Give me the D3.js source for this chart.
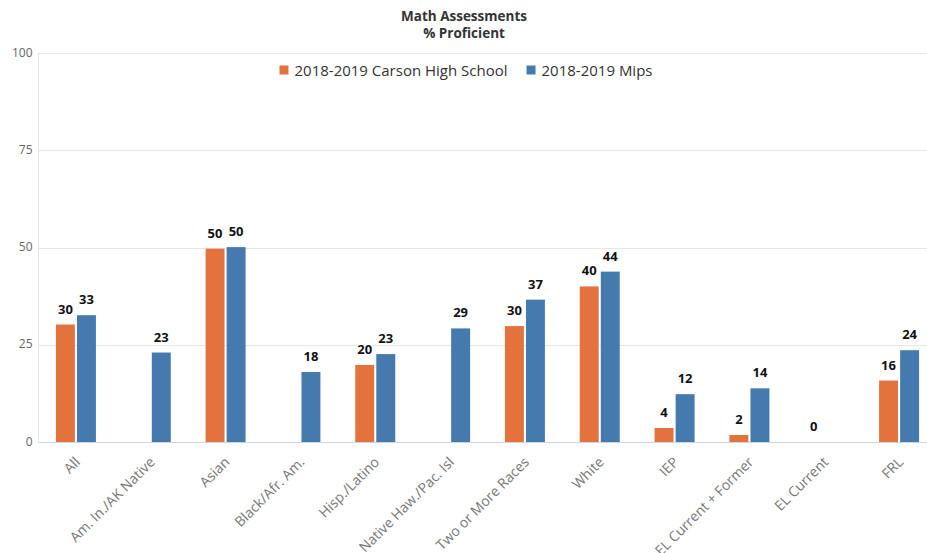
<!DOCTYPE html>
<html>
<head>
<meta charset="utf-8">
<script src="https://cdn.jsdelivr.net/npm/d3@7"></script>
<style>
  html, body { margin: 0; padding: 0; background: #fff; }
  svg { display: block; font-family: "Open Sans", "DejaVu Sans", sans-serif; }
</style>
</head>
<body>
<svg id="chart" width="927" height="553"></svg>
<script>
// ---- Data ----
const categories = ["All", "Am. In./AK Native", "Asian", "Black/Afr. Am.", "Hisp./Latino",
  "Native Haw./Pac. Isl", "Two or More Races", "White", "IEP", "EL Current + Former",
  "EL Current", "FRL"];
const seriesNames = ["2018-2019 Carson High School", "2018-2019 Mips"];
const carsonValues = [30.2, null, 49.7, null, 19.8, null, 29.8, 40.0, 3.6, 1.8, 0, 15.8];
const mipsValues = [32.6, 23.0, 50.1, 18.0, 22.6, 29.2, 36.6, 43.8, 12.3, 13.8, null, 23.6];
const yTicks = [0, 25, 50, 75, 100];
const titleLines = ["Math Assessments", "% Proficient"];

const colors = ["#e4723c", "#457aae"];
const allSeries = [carsonValues, mipsValues];

// ---- Layout ----
const svg = d3.select("#chart");
const plotLeft = 38.5, plotRight = 936.5, plotTop = 53, plotBottom = 442;

const x = d3.scaleBand().domain(categories).range([plotLeft, plotRight]).padding(0);
const xSub = d3.scaleBand().domain(d3.range(seriesNames.length)).range([0, 40]).paddingInner(0.1);
const y = d3.scaleLinear().domain([0, 100]).range([plotBottom, plotTop]);

// Title
svg.append("g").selectAll("text").data(titleLines).join("text")
  .attr("x", 464).attr("y", (d, i) => 21 + i * 17)
  .attr("text-anchor", "middle")
  .attr("font-size", 13.5).attr("font-weight", "bold").attr("fill", "#333")
  .text(d => d);

// Gridlines
svg.append("g").selectAll("line").data(yTicks.filter(t => t > 0)).join("line")
  .attr("x1", plotLeft).attr("x2", 927)
  .attr("y1", d => Math.round(y(d)) + 0.5).attr("y2", d => Math.round(y(d)) + 0.5)
  .attr("stroke", "#e6e6e6").attr("stroke-width", 1);

// Left axis line
svg.append("line")
  .attr("x1", plotLeft).attr("x2", plotLeft)
  .attr("y1", plotTop).attr("y2", plotBottom)
  .attr("stroke", "#e6e6e6").attr("stroke-width", 1);

// Y axis labels
const yAxis = d3.axisLeft(y).tickValues(yTicks).tickSize(0).tickPadding(6);
const gy = svg.append("g").attr("transform", `translate(${plotLeft},0)`).call(yAxis);
gy.select(".domain").remove();
gy.selectAll("text").attr("font-size", 12).attr("fill", "#666")
  .attr("font-family", "'Open Sans', sans-serif").attr("dy", "0.55em");
gy.selectAll(".tick").attr("transform", d => `translate(0,${y(d) - 3})`);

// Bars
const groups = svg.append("g").selectAll("g").data(categories).join("g")
  .attr("transform", d => `translate(${x(d) + x.bandwidth() / 2 - 20},0)`);

groups.each(function(cat, ci) {
  const g = d3.select(this);
  const vals = allSeries.map((s, si) => ({ si, v: s[ci] })).filter(d => d.v !== null);
  g.selectAll("rect").data(vals).join("rect")
    .attr("x", d => xSub(d.si))
    .attr("width", xSub.bandwidth())
    .attr("y", d => y(d.v))
    .attr("height", d => y(0) - y(d.v))
    .attr("fill", d => colors[d.si]);
  g.selectAll("text").data(vals).join("text")
    .attr("x", d => xSub(d.si) + xSub.bandwidth() / 2)
    .attr("y", d => y(d.v) - 11)
    .attr("text-anchor", "middle")
    .attr("font-size", 13).attr("font-weight", "bold").attr("fill", "#111")
    .attr("stroke", "#fff").attr("stroke-width", 2).attr("paint-order", "stroke")
    .text(d => Math.round(d.v));
});

// X axis line
svg.append("line")
  .attr("x1", plotLeft).attr("x2", 927)
  .attr("y1", plotBottom + 0.5).attr("y2", plotBottom + 0.5)
  .attr("stroke", "#ccd6eb").attr("stroke-width", 1);

// X axis labels
svg.append("g").selectAll("text").data(categories).join("text")
  .attr("transform", d => `translate(${x(d) + x.bandwidth() / 2 + 5},${463}) rotate(-45)`)
  .attr("text-anchor", "end")
  .attr("font-size", 14).attr("fill", "#777")
  .text(d => d);

// Legend
const legend = svg.append("g");
const items = legend.selectAll("g").data(seriesNames).join("g");
items.append("rect").attr("width", 9).attr("height", 9).attr("y", 65.5)
  .attr("fill", (d, i) => colors[i]);
items.append("text").attr("x", 15).attr("y", 75.5)
  .attr("font-size", 15).attr("fill", "#333").text(d => d);
const widths = [];
items.each(function() {
  const w = 15 + d3.select(this).select("text").node().getComputedTextLength();
  widths.push(w);
});
const gap = 19;
const total = d3.sum(widths) + gap * (widths.length - 1);
let start = 466 - total / 2;
items.attr("transform", (d, i) => {
  const t = `translate(${start},0)`;
  start += widths[i] + gap;
  return t;
});
</script>
</body>
</html>
